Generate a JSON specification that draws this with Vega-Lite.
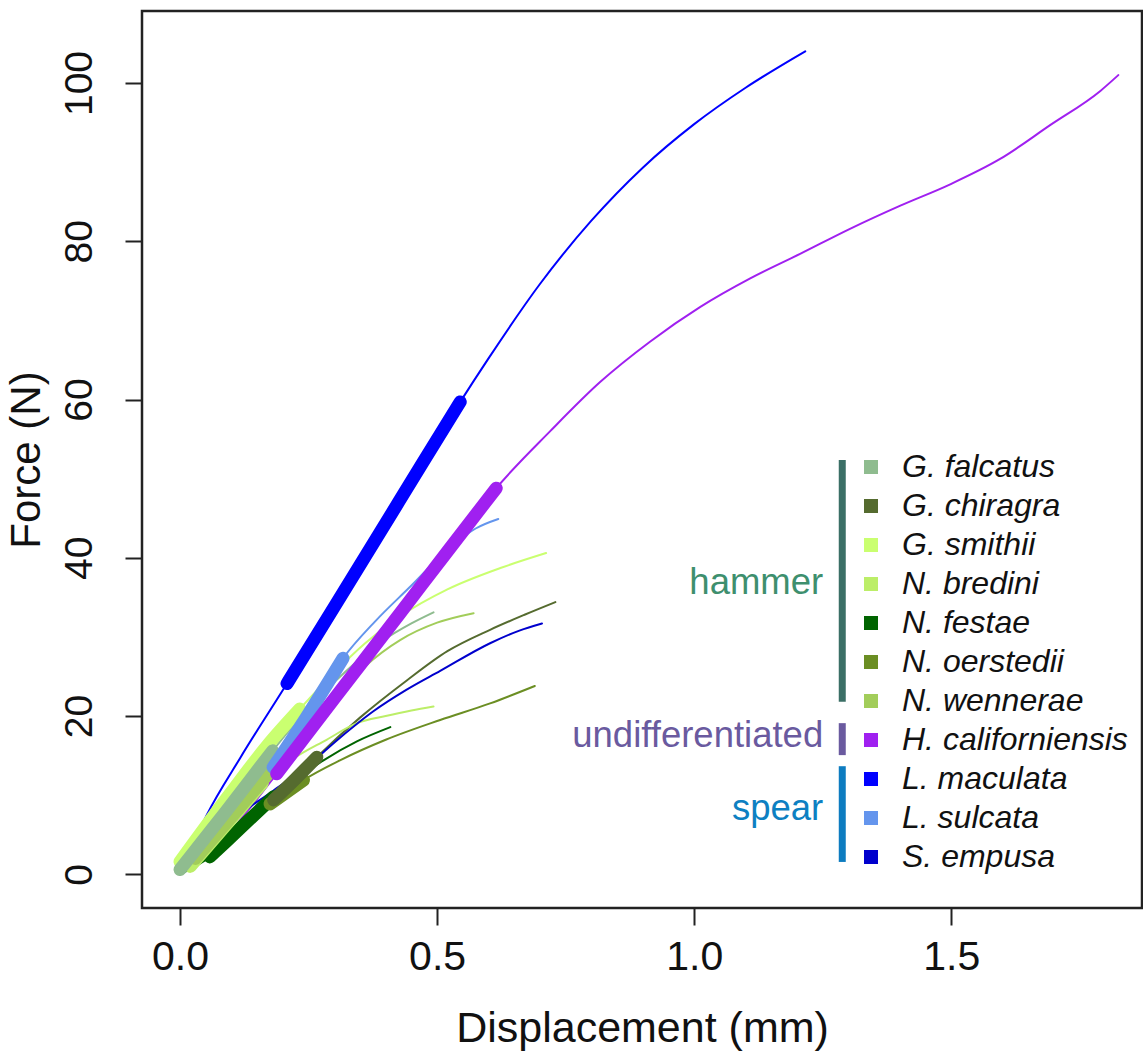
{
  "$schema": "https://vega.github.io/schema/vega-lite/v6.json",
  "autosize": {"type": "none"},
  "padding": {"left": 142, "top": 11, "right": 1, "bottom": 144},
  "width": 1000,
  "height": 897,
  "config": {
    "view": {"stroke": "#222", "strokeWidth": 2.5},
    "font": "Liberation Sans"
  },
  "datasets": {
    "curves": [
      {"s": "N. festae", "x": 0.0, "y": 0.0, "lin": 0},
      {"s": "N. festae", "x": 0.058, "y": 2.2, "lin": 1},
      {"s": "N. festae", "x": 0.12, "y": 6.0, "lin": 1},
      {"s": "N. festae", "x": 0.182, "y": 9.8, "lin": 1},
      {"s": "N. festae", "x": 0.23, "y": 12.2, "lin": 0},
      {"s": "N. festae", "x": 0.279, "y": 14.4, "lin": 0},
      {"s": "N. festae", "x": 0.344, "y": 16.8, "lin": 0},
      {"s": "N. festae", "x": 0.409, "y": 18.6, "lin": 0},

      {"s": "N. oerstedii", "x": 0.0, "y": 0.0, "lin": 0},
      {"s": "N. oerstedii", "x": 0.09, "y": 4.6, "lin": 0},
      {"s": "N. oerstedii", "x": 0.175, "y": 8.9, "lin": 1},
      {"s": "N. oerstedii", "x": 0.24, "y": 11.9, "lin": 1},
      {"s": "N. oerstedii", "x": 0.311, "y": 14.4, "lin": 0},
      {"s": "N. oerstedii", "x": 0.4, "y": 17.0, "lin": 0},
      {"s": "N. oerstedii", "x": 0.506, "y": 19.5, "lin": 0},
      {"s": "N. oerstedii", "x": 0.603, "y": 21.6, "lin": 0},
      {"s": "N. oerstedii", "x": 0.69, "y": 23.8, "lin": 0},

      {"s": "G. chiragra", "x": 0.0, "y": 0.0, "lin": 0},
      {"s": "G. chiragra", "x": 0.09, "y": 4.8, "lin": 0},
      {"s": "G. chiragra", "x": 0.182, "y": 9.4, "lin": 1},
      {"s": "G. chiragra", "x": 0.225, "y": 12.1, "lin": 1},
      {"s": "G. chiragra", "x": 0.266, "y": 14.8, "lin": 1},
      {"s": "G. chiragra", "x": 0.35, "y": 19.8, "lin": 0},
      {"s": "G. chiragra", "x": 0.441, "y": 24.5, "lin": 0},
      {"s": "G. chiragra", "x": 0.52, "y": 28.2, "lin": 0},
      {"s": "G. chiragra", "x": 0.603, "y": 30.9, "lin": 0},
      {"s": "G. chiragra", "x": 0.67, "y": 32.8, "lin": 0},
      {"s": "G. chiragra", "x": 0.73, "y": 34.4, "lin": 0},

      {"s": "N. bredini", "x": 0.02, "y": 1.0, "lin": 1},
      {"s": "N. bredini", "x": 0.09, "y": 6.3, "lin": 1},
      {"s": "N. bredini", "x": 0.16, "y": 11.5, "lin": 1},
      {"s": "N. bredini", "x": 0.22, "y": 14.6, "lin": 0},
      {"s": "N. bredini", "x": 0.285, "y": 17.0, "lin": 0},
      {"s": "N. bredini", "x": 0.344, "y": 19.1, "lin": 0},
      {"s": "N. bredini", "x": 0.4, "y": 20.0, "lin": 0},
      {"s": "N. bredini", "x": 0.45, "y": 20.7, "lin": 0},
      {"s": "N. bredini", "x": 0.493, "y": 21.2, "lin": 0},

      {"s": "N. wennerae", "x": 0.03, "y": 2.0, "lin": 1},
      {"s": "N. wennerae", "x": 0.11, "y": 8.0, "lin": 1},
      {"s": "N. wennerae", "x": 0.188, "y": 14.0, "lin": 1},
      {"s": "N. wennerae", "x": 0.24, "y": 18.0, "lin": 0},
      {"s": "N. wennerae", "x": 0.298, "y": 22.2, "lin": 0},
      {"s": "N. wennerae", "x": 0.36, "y": 26.3, "lin": 0},
      {"s": "N. wennerae", "x": 0.428, "y": 29.6, "lin": 0},
      {"s": "N. wennerae", "x": 0.5, "y": 31.8, "lin": 0},
      {"s": "N. wennerae", "x": 0.571, "y": 33.0, "lin": 0},

      {"s": "G. smithii", "x": 0.0, "y": 1.6, "lin": 1},
      {"s": "G. smithii", "x": 0.1, "y": 10.4, "lin": 1},
      {"s": "G. smithii", "x": 0.17, "y": 16.3, "lin": 1},
      {"s": "G. smithii", "x": 0.233, "y": 20.9, "lin": 1},
      {"s": "G. smithii", "x": 0.3, "y": 25.5, "lin": 0},
      {"s": "G. smithii", "x": 0.36, "y": 29.2, "lin": 0},
      {"s": "G. smithii", "x": 0.428, "y": 32.6, "lin": 0},
      {"s": "G. smithii", "x": 0.52, "y": 36.0, "lin": 0},
      {"s": "G. smithii", "x": 0.623, "y": 38.7, "lin": 0},
      {"s": "G. smithii", "x": 0.712, "y": 40.6, "lin": 0},

      {"s": "G. falcatus", "x": 0.0, "y": 0.6, "lin": 1},
      {"s": "G. falcatus", "x": 0.045, "y": 4.3, "lin": 1},
      {"s": "G. falcatus", "x": 0.09, "y": 8.0, "lin": 1},
      {"s": "G. falcatus", "x": 0.135, "y": 11.8, "lin": 1},
      {"s": "G. falcatus", "x": 0.18, "y": 15.6, "lin": 1},
      {"s": "G. falcatus", "x": 0.25, "y": 21.0, "lin": 0},
      {"s": "G. falcatus", "x": 0.32, "y": 25.5, "lin": 0},
      {"s": "G. falcatus", "x": 0.396, "y": 29.6, "lin": 0},
      {"s": "G. falcatus", "x": 0.45, "y": 31.7, "lin": 0},
      {"s": "G. falcatus", "x": 0.493, "y": 33.1, "lin": 0},

      {"s": "L. sulcata", "x": 0.0, "y": 0.0, "lin": 0},
      {"s": "L. sulcata", "x": 0.09, "y": 6.5, "lin": 0},
      {"s": "L. sulcata", "x": 0.181, "y": 13.5, "lin": 1},
      {"s": "L. sulcata", "x": 0.25, "y": 20.3, "lin": 1},
      {"s": "L. sulcata", "x": 0.317, "y": 27.3, "lin": 1},
      {"s": "L. sulcata", "x": 0.38, "y": 32.0, "lin": 0},
      {"s": "L. sulcata", "x": 0.447, "y": 36.3, "lin": 0},
      {"s": "L. sulcata", "x": 0.525, "y": 41.3, "lin": 0},
      {"s": "L. sulcata", "x": 0.575, "y": 43.7, "lin": 0},
      {"s": "L. sulcata", "x": 0.619, "y": 44.9, "lin": 0},

      {"s": "H. californiensis", "x": 0.0, "y": 0.0, "lin": 0},
      {"s": "H. californiensis", "x": 0.08, "y": 4.2, "lin": 0},
      {"s": "H. californiensis", "x": 0.188, "y": 12.7, "lin": 1},
      {"s": "H. californiensis", "x": 0.3, "y": 22.2, "lin": 1},
      {"s": "H. californiensis", "x": 0.428, "y": 33.0, "lin": 1},
      {"s": "H. californiensis", "x": 0.52, "y": 40.8, "lin": 1},
      {"s": "H. californiensis", "x": 0.615, "y": 48.8, "lin": 1},
      {"s": "H. californiensis", "x": 0.72, "y": 56.0, "lin": 0},
      {"s": "H. californiensis", "x": 0.817, "y": 62.2, "lin": 0},
      {"s": "H. californiensis", "x": 0.914, "y": 67.3, "lin": 0},
      {"s": "H. californiensis", "x": 1.012, "y": 71.7, "lin": 0},
      {"s": "H. californiensis", "x": 1.109, "y": 75.3, "lin": 0},
      {"s": "H. californiensis", "x": 1.206, "y": 78.4, "lin": 0},
      {"s": "H. californiensis", "x": 1.304, "y": 81.6, "lin": 0},
      {"s": "H. californiensis", "x": 1.401, "y": 84.5, "lin": 0},
      {"s": "H. californiensis", "x": 1.498, "y": 87.2, "lin": 0},
      {"s": "H. californiensis", "x": 1.595, "y": 90.4, "lin": 0},
      {"s": "H. californiensis", "x": 1.693, "y": 94.7, "lin": 0},
      {"s": "H. californiensis", "x": 1.79, "y": 99.0, "lin": 0},
      {"s": "H. californiensis", "x": 1.825, "y": 101.0, "lin": 0},

      {"s": "S. empusa", "x": 0.0, "y": 0.0, "lin": 0},
      {"s": "S. empusa", "x": 0.05, "y": 3.5, "lin": 0},
      {"s": "S. empusa", "x": 0.117, "y": 7.6, "lin": 0},
      {"s": "S. empusa", "x": 0.18, "y": 10.5, "lin": 0},
      {"s": "S. empusa", "x": 0.246, "y": 13.6, "lin": 0},
      {"s": "S. empusa", "x": 0.31, "y": 17.2, "lin": 0},
      {"s": "S. empusa", "x": 0.376, "y": 20.6, "lin": 0},
      {"s": "S. empusa", "x": 0.44, "y": 23.3, "lin": 0},
      {"s": "S. empusa", "x": 0.506, "y": 25.7, "lin": 0},
      {"s": "S. empusa", "x": 0.603, "y": 29.2, "lin": 0},
      {"s": "S. empusa", "x": 0.66, "y": 30.8, "lin": 0},
      {"s": "S. empusa", "x": 0.704, "y": 31.7, "lin": 0},

      {"s": "L. maculata", "x": 0.0, "y": 0.0, "lin": 0},
      {"s": "L. maculata", "x": 0.052, "y": 7.5, "lin": 0},
      {"s": "L. maculata", "x": 0.117, "y": 14.7, "lin": 0},
      {"s": "L. maculata", "x": 0.208, "y": 24.1, "lin": 1},
      {"s": "L. maculata", "x": 0.3, "y": 33.8, "lin": 1},
      {"s": "L. maculata", "x": 0.389, "y": 43.2, "lin": 1},
      {"s": "L. maculata", "x": 0.47, "y": 51.8, "lin": 1},
      {"s": "L. maculata", "x": 0.545, "y": 59.7, "lin": 1},
      {"s": "L. maculata", "x": 0.6, "y": 65.2, "lin": 0},
      {"s": "L. maculata", "x": 0.7, "y": 74.6, "lin": 0},
      {"s": "L. maculata", "x": 0.8, "y": 82.6, "lin": 0},
      {"s": "L. maculata", "x": 0.9, "y": 89.3, "lin": 0},
      {"s": "L. maculata", "x": 1.0, "y": 94.8, "lin": 0},
      {"s": "L. maculata", "x": 1.1, "y": 99.4, "lin": 0},
      {"s": "L. maculata", "x": 1.216, "y": 104.0, "lin": 0}
    ]
  },
  "data": {"name": "curves"},
  "layer": [
    {
      "mark": {"type": "line", "strokeWidth": 2, "strokeCap": "round", "strokeJoin": "round", "interpolate": "monotone"},
      "encoding": {
        "x": {
          "field": "x", "type": "quantitative",
          "scale": {"domain": [-0.074, 1.871], "nice": false, "zero": false},
          "axis": {
            "title": "Displacement (mm)", "values": [0, 0.5, 1, 1.5], "format": ".1f",
            "grid": false, "domain": false, "tickSize": 17, "tickWidth": 2, "tickColor": "#222",
            "labelFontSize": 41, "labelFont": "Liberation Sans", "labelColor": "#111", "labelPadding": 12,
            "labelFlush": false,
            "titleFontSize": 43, "titleFont": "Liberation Sans", "titleFontWeight": "normal", "titleColor": "#111",
            "titlePadding": 30
          }
        },
        "y": {
          "field": "y", "type": "quantitative",
          "scale": {"domain": [-4.26, 109.1], "nice": false, "zero": false},
          "axis": {
            "title": "Force (N)", "values": [0, 20, 40, 60, 80, 100],
            "grid": false, "domain": false, "tickSize": 17, "tickWidth": 2, "tickColor": "#222",
            "labelAngle": -90, "labelAlign": "center", "labelBaseline": "alphabetic",
            "labelFontSize": 39, "labelFont": "Liberation Sans", "labelColor": "#111", "labelPadding": 34,
            "labelFlush": false,
            "titleFontSize": 42, "titleFont": "Liberation Sans", "titleFontWeight": "normal", "titleColor": "#111",
            "titlePadding": 12
          }
        },
        "color": {
          "field": "s", "type": "nominal",
          "scale": {
            "domain": ["G. falcatus", "G. chiragra", "G. smithii", "N. bredini", "N. festae", "N. oerstedii", "N. wennerae", "H. californiensis", "L. maculata", "L. sulcata", "S. empusa"],
            "range": ["#8FBC8F", "#556B2F", "#CAFF70", "#BCEE68", "#006400", "#6B8E23", "#A2CD5A", "#A020F0", "#0000FF", "#6495ED", "#0000CD"]
          },
          "legend": {
            "orient": "none", "legendX": 713, "legendY": 440, "title": null, "direction": "vertical",
            "padding": 0, "offset": 0,
            "symbolType": "square", "symbolSize": 196, "symbolStrokeWidth": 0, "symbolOpacity": 1,
            "labelFontSize": 32, "labelFont": "Liberation Sans", "labelFontStyle": "italic", "labelColor": "#111",
            "labelOffset": 15, "rowPadding": 7, "labelLimit": 500,
            "encode": {"symbols": {"update": {"fill": {"scale": "color", "field": "value"}, "strokeWidth": {"value": 0}, "shape": {"value": "square"}}}}
          }
        },
        "order": {"field": "x", "type": "quantitative"}
      }
    },
    {
      "transform": [{"filter": "datum.lin == 1"}],
      "mark": {"type": "line", "strokeWidth": 13, "strokeCap": "round", "strokeJoin": "round", "interpolate": "monotone"},
      "encoding": {
        "x": {"field": "x", "type": "quantitative"},
        "y": {"field": "y", "type": "quantitative"},
        "color": {"field": "s", "type": "nominal"},
        "order": {"field": "x", "type": "quantitative"}
      }
    },
    {
      "data": {"values": [{"g": "hammer"}]},
      "mark": {"type": "rule", "strokeWidth": 7, "color": "#3B6F66"},
      "encoding": {"x": {"datum": 1.288, "type": "quantitative"}, "y": {"datum": 52.36, "type": "quantitative"}, "y2": {"datum": 21.79}}
    },
    {
      "data": {"values": [{"g": "undifferentiated"}]},
      "mark": {"type": "rule", "strokeWidth": 7, "color": "#6A5A9F"},
      "encoding": {"x": {"datum": 1.288, "type": "quantitative"}, "y": {"datum": 19.1, "type": "quantitative"}, "y2": {"datum": 15.06}}
    },
    {
      "data": {"values": [{"g": "spear"}]},
      "mark": {"type": "rule", "strokeWidth": 7, "color": "#0D7CC0"},
      "encoding": {"x": {"datum": 1.288, "type": "quantitative"}, "y": {"datum": 13.66, "type": "quantitative"}, "y2": {"datum": 1.56}}
    },
    {
      "data": {"values": [{"g": "hammer"}]},
      "mark": {"type": "text", "align": "right", "baseline": "alphabetic", "fontSize": 36.5, "font": "Liberation Sans", "color": "#3E8F6E"},
      "encoding": {"x": {"datum": 1.251, "type": "quantitative"}, "y": {"datum": 35.41, "type": "quantitative"}, "text": {"field": "g"}}
    },
    {
      "data": {"values": [{"g": "undifferentiated"}]},
      "mark": {"type": "text", "align": "right", "baseline": "alphabetic", "fontSize": 36.5, "font": "Liberation Sans", "color": "#6A5A9F"},
      "encoding": {"x": {"datum": 1.251, "type": "quantitative"}, "y": {"datum": 16.1, "type": "quantitative"}, "text": {"field": "g"}}
    },
    {
      "data": {"values": [{"g": "spear"}]},
      "mark": {"type": "text", "align": "right", "baseline": "alphabetic", "fontSize": 36.5, "font": "Liberation Sans", "color": "#0D80C2"},
      "encoding": {"x": {"datum": 1.251, "type": "quantitative"}, "y": {"datum": 6.83, "type": "quantitative"}, "text": {"field": "g"}}
    }
  ]
}
